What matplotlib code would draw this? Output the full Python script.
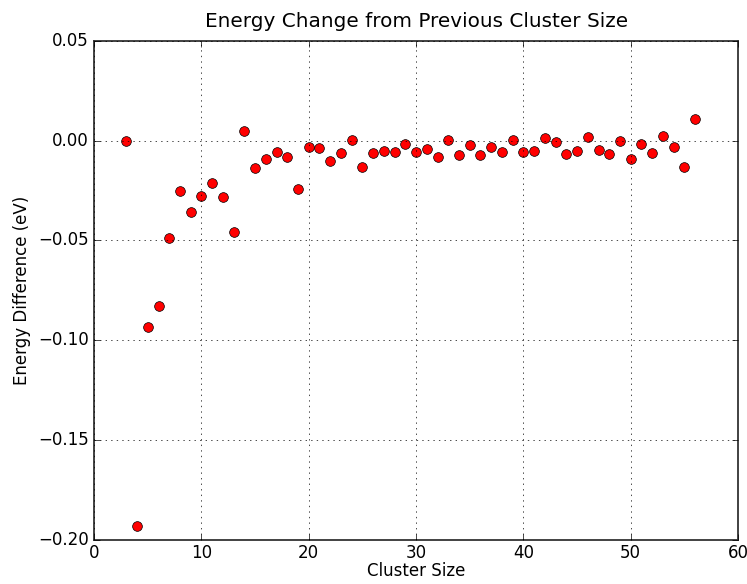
import matplotlib
matplotlib.use("Agg")
import matplotlib.pyplot as plt

cluster_size = list(range(3, 57))
energy_diff = [
    0.000, -0.193, -0.0935, -0.083, -0.049, -0.0253, -0.0358, -0.0278, -0.0214, -0.0283,
    -0.046, 0.005, -0.0139, -0.0094, -0.0055, -0.0080, -0.0244, -0.0030, -0.0035, -0.0104,
    -0.0060, 0.0005, -0.0130, -0.0063, -0.0053, -0.0058, -0.0015, -0.0058, -0.0040, -0.0083,
    0.0005, -0.0070, -0.0020, -0.0070, -0.0030, -0.0058, 0.0003, -0.0055, -0.0052, 0.0015,
    -0.0007, -0.0068, -0.0052, 0.0020, -0.0045, -0.0065, 0.0000, -0.0092, -0.0018, -0.0062,
    0.0025, -0.0032, -0.0133, 0.0110,
]

plt.style.use("classic")
fig = plt.figure(figsize=(7.47, 5.84), dpi=100, facecolor="white")
ax = fig.add_axes([0.126, 0.076, 0.862, 0.854])
ax.plot(cluster_size, energy_diff, "ro", markersize=7)
ax.set_xlim(0, 60)
ax.set_ylim(-0.20, 0.05)
ax.set_title("Energy Change from Previous Cluster Size", pad=10)
ax.set_xlabel("Cluster Size", labelpad=0)
ax.set_ylabel("Energy Difference (eV)")
ax.tick_params(axis="x", pad=3)
for spine in ax.spines.values():
    spine.set_linewidth(1.3)
    spine.set_color("#333333")
ax.grid(True)
fig.savefig("out.png", dpi=100, facecolor="white")
